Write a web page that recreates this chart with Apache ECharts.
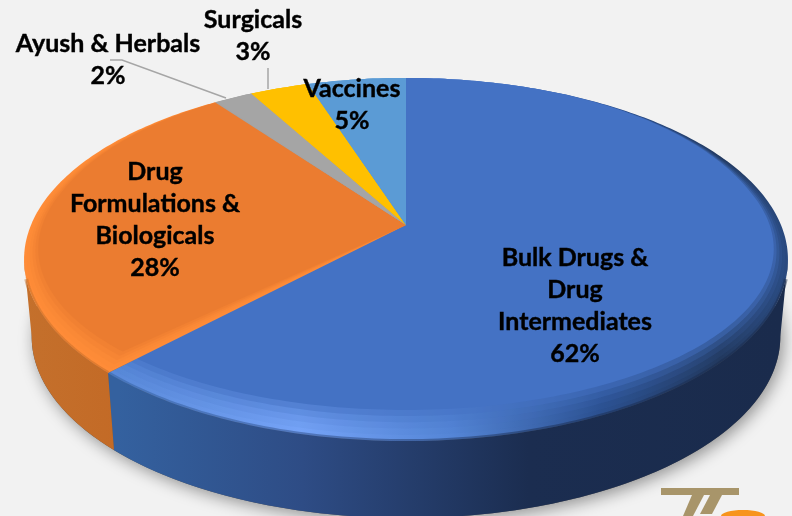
<!DOCTYPE html>
<html>
<head>
<meta charset="utf-8">
<style>
html,body{margin:0;padding:0;background:#f2f2f2;}
#main{width:792px;height:516px;}
</style>
<script src="https://cdn.jsdelivr.net/npm/echarts@6/dist/echarts.min.js"></script>
</head>
<body>
<div id="main"></div>
<script>
var categories = ['Bulk Drugs & Drug Intermediates', 'Drug Formulations & Biologicals', 'Ayush & Herbals', 'Surgicals', 'Vaccines'];
var shares = [62, 28, 2, 3, 5];
var colors = ['#4472C4', '#EB7C30', '#A5A5A5', '#FFC000', '#5B9BD5'];

// perspective of the tilted disc, in page pixels
var apexX = 406, apexY = 225, radX = 375, radY = 175, tilt = 0.19;
var wallH = 77, wallNarrow = 0.98;
var frontFrom = Math.acos(-tilt) * 180 / Math.PI;
var frontTo = 360 - frontFrom;

var total = shares.reduce(function(a, b){ return a + b; }, 0);

// bevel = 0 is the outer rim, bevel = 1 the inner edge of the rounded rim; it closes up at the back
function project(deg, bevel) {
    var t = deg * Math.PI / 180;
    var back = Math.max(0, Math.cos(t));
    var grow = bevel * (1 - back * back);
    var u = Math.sin(t) * (1 - 0.03 * grow);
    var v = Math.cos(t) + 0.1 * grow * Math.max(0, 0.2 - Math.cos(t));
    var d = 1 + tilt * v;
    return [apexX + radX * u / d, apexY - radY * v / d];
}

function arc(from, to, bevel) {
    var pts = [];
    for (var a = from; a < to; a += 1) pts.push(project(a, bevel));
    pts.push(project(to, bevel));
    return pts;
}

function lowered(p) {
    return [apexX + (p[0] - apexX) * wallNarrow, p[1] + wallH];
}

function toPx(api, pts) {
    return pts.map(function(p){ return api.coord(p); });
}

function grad(x1, x2, stops) {
    return new echarts.graphic.LinearGradient(x1, 0, x2, 0, stops, true);
}

var wallFill = [
    grad(118, 780, [{offset:0,color:'#34619f'},{offset:0.28,color:'#2e4c85'},{offset:0.62,color:'#1b2d50'},{offset:1,color:'#1a2b4c'}]),
    grad(24, 120, [{offset:0,color:'#c4702c'},{offset:1,color:'#c36a26'}])
];
var rimFill = [
    grad(118, 788, [{offset:0,color:'#5a8ada'},{offset:0.27,color:'#75a3f7'},{offset:0.5,color:'#5485d6'},{offset:0.72,color:'#2b5090'},{offset:0.9,color:'#22395f'},{offset:1,color:'#2a4a80'}]),
    '#ff8c38'
];
var bevelSteps = [0.2, 0.4, 0.6, 0.8, 1];
var bevelAlpha = [0.08, 0.14, 0.25, 0.45, 1];

function renderBase(params, api) {
    var pts = arc(0, 360, 0).map(lowered);
    return {
        type: 'polygon',
        shape: {points: toPx(api, pts)},
        style: {fill: '#555', shadowBlur: 16, shadowColor: 'rgba(0,0,0,0.4)', shadowOffsetY: 4, shadowOffsetX: 3}
    };
}

function renderSlice(params, api) {
    var i = params.dataIndex;
    var start = 0;
    for (var k = 0; k < i; k++) start += shares[k];
    var from = start / total * 360;
    var to = (start + api.value(1)) / total * 360;
    var kids = [];
    var apex = [apexX, apexY];
    var wFrom = Math.max(from, frontFrom), wTo = Math.min(to, frontTo);
    var top = wTo > wFrom ? arc(wFrom, wTo, 0) : null;
    if (top) {
        var wall = top.concat(top.slice().reverse().map(lowered));
        kids.push({type: 'polygon', shape: {points: toPx(api, wall)}, style: {fill: wallFill[i] || colors[i]}});
    }
    kids.push({
        type: 'polygon',
        shape: {points: toPx(api, [apex].concat(arc(from, to, 0)))},
        style: {fill: rimFill[i] || colors[i]}
    });
    if (top) {
        // soft edge between the rim and the wall, stopped short of the silhouette
        var edgeFrom = wFrom === frontFrom ? wFrom + 6 : wFrom;
        var edgeTo = wTo === frontTo ? wTo - 6 : wTo;
        kids.push({
            type: 'polyline',
            shape: {points: toPx(api, arc(edgeFrom, edgeTo, 0))},
            style: {stroke: wallFill[i], lineWidth: 4, opacity: 0.5, fill: null}
        });
    }
    bevelSteps.forEach(function(b, n) {
        kids.push({
            type: 'polygon',
            shape: {points: toPx(api, [apex].concat(arc(from, to, b)))},
            style: {fill: colors[i], opacity: bevelAlpha[n]}
        });
    });
    return {type: 'group', children: kids};
}

function label(text, x, y) {
    return {
        type: 'text', x: x, y: y, silent: true, z: 20,
        style: {text: text, fill: '#000', stroke: '#000', lineWidth: 0.4, font: 'bold 25px Lato', textAlign: 'center', textVerticalAlign: 'top', lineHeight: 32}
    };
}

var option = {
    backgroundColor: '#f2f2f2',
    animation: false,
    grid: {left: 0, right: 0, top: 0, bottom: 0},
    xAxis: {type: 'value', min: 0, max: 792, show: false},
    yAxis: {type: 'value', min: 0, max: 516, inverse: true, show: false},
    series: [
        {type: 'custom', silent: true, clip: false, z: 1, renderItem: renderBase, data: [[0, 0]]},
        {
            type: 'custom', silent: true, clip: false, z: 2, renderItem: renderSlice,
            data: shares.map(function(v, i){ return {name: categories[i], value: [i, v]}; })
        }
    ],
    graphic: [
        label('Bulk Drugs &\nDrug\nIntermediates\n62%', 575, 242),
        label('Drug\nFormulations &\nBiologicals\n28%', 155, 156),
        label('Vaccines\n5%', 352, 73),
        label('Surgicals\n3%', 253, 4),
        label('Ayush & Herbals\n2%', 108, 28),
        {type: 'polyline', z: 15, silent: true, shape: {points: [[110,60],[122,60],[226,98]]}, style: {stroke: '#a6a6a6', lineWidth: 1.5, fill: null}},
        {type: 'polyline', z: 15, silent: true, shape: {points: [[268,68],[268,89]]}, style: {stroke: '#a6a6a6', lineWidth: 1.5, fill: null}},
        // logo corner at the bottom
        {type: 'polygon', z: 15, silent: true, shape: {points: [[661,488],[739,488],[739,495],[661,495]]}, style: {fill: '#a8956a'}},
        {type: 'polygon', z: 15, silent: true, shape: {points: [[692,495],[704,495],[693,516],[683,516]]}, style: {fill: '#a8956a'}},
        {type: 'polygon', z: 15, silent: true, shape: {points: [[710,495],[722,495],[712,514],[700,514]]}, style: {fill: '#a8956a'}},
        {type: 'ellipse', z: 16, silent: true, shape: {cx: 743, cy: 516, rx: 22, ry: 6}, style: {fill: '#f7941d'}}
    ]
};

var chart = echarts.init(document.getElementById('main'));
chart.setOption(option);
</script>
</body>
</html>
